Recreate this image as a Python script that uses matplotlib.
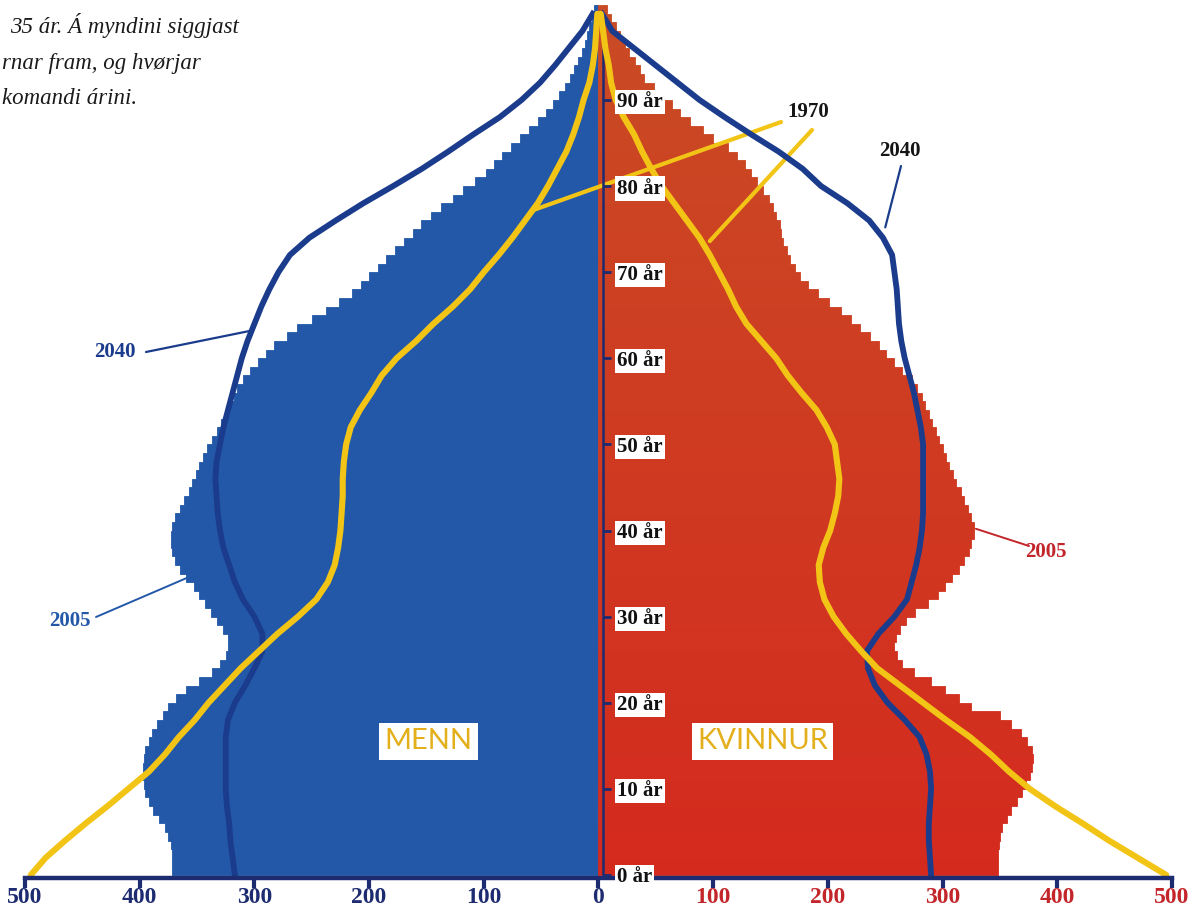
import numpy as np
import matplotlib.pyplot as plt
from matplotlib.colors import to_rgb

# Population by single year of age, 2005 (bars)
ages = np.arange(101)
men_2005 = [372, 372, 372, 373, 375, 378, 383, 388, 392, 395,
            396, 397, 397, 396, 395, 392, 389, 385, 380, 375,
            368, 360, 348, 337, 330, 325, 323, 323, 327, 333,
            338, 343, 348, 353, 360, 365, 369, 372, 373, 373,
            372, 369, 365, 361, 357, 354, 351, 348, 345, 341,
            337, 333, 329, 325, 321, 318, 315, 310, 304, 297,
            290, 283, 272, 263, 250, 238, 226, 215, 207, 200,
            192, 185, 177, 170, 162, 155, 146, 137, 127, 118,
            108, 98, 91, 84, 76, 68, 61, 53, 46, 40,
            34, 29, 25, 21, 18, 14, 12, 10, 8, 6, 4]
women_2005 = [348, 348, 348, 349, 350, 352, 356, 360, 365, 369,
              373, 376, 378, 379, 378, 374, 368, 360, 350, 325,
              314, 302, 290, 275, 265, 260, 258, 259, 263, 268,
              276, 287, 296, 302, 308, 314, 319, 323, 325, 327,
              327, 325, 322, 319, 316, 312, 309, 306, 303, 300,
              297, 294, 291, 288, 285, 282, 278, 273, 265, 258,
              251, 245, 237, 228, 220, 211, 201, 191, 183, 176,
              171, 167, 164, 161, 159, 158, 155, 152, 149, 143,
              138, 133, 128, 121, 113, 100, 91, 80, 71, 64,
              56, 48, 40, 36, 32, 27, 23, 19, 15, 11, 7]

# 1970 and 2040 curves, every second year
ages_line = np.arange(0, 101, 2)
men_1970 = [495, 482, 465, 447, 428, 410, 392, 378, 366, 352,
            340, 326, 312, 296, 280, 262, 246, 236, 230, 227,
            225, 224, 223, 223, 222, 220, 216, 208, 198, 189,
            176, 159, 144, 127, 112, 100, 87, 75, 64, 53,
            44, 36, 28, 22, 17, 13, 8, 5, 3, 2, 1]
women_1970 = [495, 470, 445, 422, 398, 376, 358, 342, 324, 303,
              283, 263, 243, 229, 216, 205, 197, 193, 192, 196,
              202, 206, 209, 210, 208, 206, 199, 190, 177, 165,
              155, 142, 129, 120, 113, 105, 97, 88, 77, 66,
              55, 46, 38, 31, 22, 15, 11, 9, 6, 4, 2]
men_2040 = [317, 319, 321, 322, 324, 325, 325, 325, 325, 323,
            317, 308, 300, 293, 293, 300, 310, 317, 322, 327,
            330, 332, 333, 334, 333, 330, 327, 323, 319, 315,
            311, 306, 300, 294, 287, 279, 269, 252, 229, 205,
            179, 154, 131, 109, 86, 67, 51, 38, 26, 14, 5]
women_2040 = [290, 289, 288, 288, 289, 290, 289, 286, 280, 267,
              252, 241, 235, 234, 244, 258, 269, 273, 277, 280,
              282, 283, 283, 283, 283, 283, 281, 278, 275, 271,
              267, 264, 262, 261, 260, 258, 256, 248, 236, 217,
              194, 178, 157, 133, 110, 88, 69, 50, 31, 12, 3]

xtick_values = [-500, -400, -300, -200, -100, 0, 100, 200, 300, 400, 500]
xtick_labels = ['500', '400', '300', '200', '100', '0', '100', '200', '300', '400', '500']
age_ticks = [0, 10, 20, 30, 40, 50, 60, 70, 80, 90]
age_labels = ['0 år', '10 år', '20 år', '30 år', '40 år', '50 år',
              '60 år', '70 år', '80 år', '90 år']

# visible part of the caption in the upper left corner
intro_lines = ['35 ár. Á myndini siggjast',
               'rnar fram, og hvørjar',
               'komandi árini.']

BLUE = '#2358a8'
NAVY = '#1b3c8c'
AXIS = '#1d2b70'
YELLOW = '#f2c416'
RED_TXT = '#c3262a'
SERIF = 'Liberation Serif'


def main():
    fig = plt.figure(figsize=(11.94, 9.09), dpi=100)
    ax = fig.add_axes([0, 0, 1, 1])
    ax.set_xlim(-521.8, 519.2)
    ax.set_ylim(-3.95, 101.6)

    # 2005 bars
    ax.barh(ages, -np.array(men_2005), height=1.0, align='edge',
            color=BLUE, edgecolor=BLUE, linewidth=0.6, zorder=1)
    red_low = np.array(to_rgb('#d42a1e'))
    red_high = np.array(to_rgb('#c94b24'))
    red_cols = [tuple(red_low + (red_high - red_low) * a / 100.0) for a in ages]
    ax.barh(ages, women_2005, height=1.0, align='edge',
            color=red_cols, edgecolor=red_cols, linewidth=0.6, zorder=1)

    # 2040 and 1970 curves
    ax.plot(-np.array(men_2040), ages_line, color=NAVY, lw=4.2,
            solid_joinstyle='round', zorder=3)
    ax.plot(women_2040, ages_line, color=NAVY, lw=4.2,
            solid_joinstyle='round', zorder=3)
    ax.plot(-np.array(men_1970), ages_line, color=YELLOW, lw=4.4,
            solid_joinstyle='round', solid_capstyle='round', zorder=4)
    ax.plot(women_1970, ages_line, color=YELLOW, lw=4.4,
            solid_joinstyle='round', solid_capstyle='round', zorder=4)

    # axes: baseline at the bottom, age axis in the middle
    for side in ['top', 'left']:
        ax.spines[side].set_visible(False)
    ax.spines['bottom'].set_position(('data', -0.3))
    ax.spines['bottom'].set_bounds(-500, 500)
    ax.spines['bottom'].set_linewidth(3.2)
    ax.spines['bottom'].set_color(AXIS)
    ax.spines['bottom'].set_zorder(6)
    ax.spines['right'].set_position(('data', 4))
    ax.spines['right'].set_bounds(0, 99.5)
    ax.spines['right'].set_linewidth(1.8)
    ax.spines['right'].set_color(AXIS)
    ax.spines['right'].set_zorder(3.5)

    ax.set_xticks(xtick_values)
    ax.set_xticklabels(xtick_labels)
    ax.tick_params(axis='x', direction='out', length=7, width=3, color=AXIS, pad=0)
    for val, lbl in zip(xtick_values, ax.get_xticklabels()):
        lbl.set_fontfamily(SERIF)
        lbl.set_fontweight('bold')
        lbl.set_fontsize(17)
        lbl.set_color(RED_TXT if val > 0 else AXIS)

    ax.yaxis.tick_right()
    ax.set_yticks(age_ticks)
    ax.set_yticklabels(age_labels)
    ax.tick_params(axis='y', direction='out', length=6, width=2, color=AXIS, pad=4)
    for lbl in ax.get_yticklabels():
        lbl.set_fontfamily(SERIF)
        lbl.set_fontweight('bold')
        lbl.set_fontsize(15)
        lbl.set_color('#111111')
        lbl.set_bbox(dict(facecolor='white', edgecolor='none', pad=1.5))
    ax.yaxis.set_zorder(6)
    ax.xaxis.set_zorder(6)

    # series labels with leader lines
    def leader(xy, start, color, lw):
        ax.annotate('', xy=xy, xycoords='data', xytext=start,
                    textcoords='figure pixels',
                    arrowprops=dict(arrowstyle='-', color=color, lw=lw,
                                    shrinkA=0, shrinkB=0), zorder=2.5)

    def label(text, pos, color):
        ax.annotate(text, xy=pos, xycoords='figure pixels', ha='center',
                    va='center', fontsize=15, fontweight='bold',
                    family=SERIF, color=color, zorder=7)

    label('2040', (115, 557), NAVY)
    leader((-303, 63.2), (146, 557), NAVY, 1.6)
    label('2005', (70, 288), BLUE)
    leader((-357, 34.6), (96, 292), BLUE, 1.4)
    label('2005', (1046, 357), RED_TXT)
    leader((329, 40.2), (1029, 363), RED_TXT, 1.4)
    label('1970', (808, 797), '#151515')
    leader((-57, 77.2), (781, 787), YELLOW, 3.0)
    leader((97, 73.6), (812, 779), YELLOW, 3.0)
    label('2040', (900, 758), '#151515')
    leader((250, 75.2), (901, 743), NAVY, 1.6)

    # group labels
    for text, x in [('MENN', -148), ('KVINNUR', 143)]:
        ax.text(x, 15.5, text, ha='center', va='center', fontsize=21,
                family='Lato', color='#e3b01c', zorder=7,
                bbox=dict(facecolor='white', edgecolor='none', pad=4))

    # caption text in the corner
    for text, (xl, yb) in zip(intro_lines, [(10, 33), (2, 69), (2, 104)]):
        fig.text(xl / 1194.0, 1 - yb / 909.0, text, ha='left', va='baseline',
                 fontsize=16.5, style='italic', family=SERIF, color='#1a1a1a')

    fig.savefig('out.png', dpi=100)


if __name__ == '__main__':
    main()
